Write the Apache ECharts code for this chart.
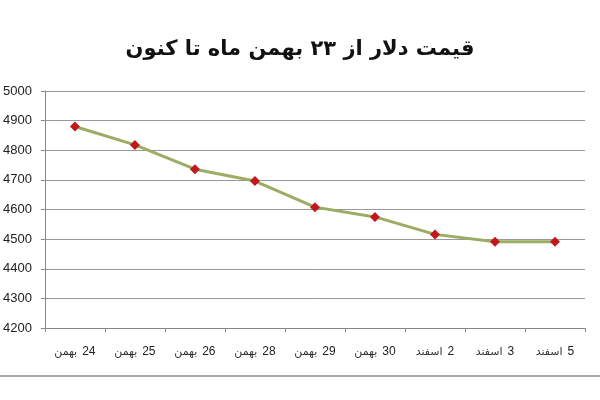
<!DOCTYPE html>
<html><head><meta charset="utf-8">
<script src="https://cdn.jsdelivr.net/npm/echarts@6/dist/echarts.min.js"></script>
<style>html,body{margin:0;padding:0;background:#fff}#c{width:600px;height:400px}</style>
</head><body><div id="c"></div>
<script>
const titleText = 'قیمت دلار از ۲۳ بهمن ماه تا کنون';
const days = ['24','25','26','28','29','30','2','3','5'];
const months = ['بهمن','بهمن','بهمن','بهمن','بهمن','بهمن','اسفند','اسفند','اسفند'];
const prices = [4880, 4818, 4736, 4696, 4608, 4575, 4516, 4491, 4491];
const yMin = 4200, yMax = 5000, yStep = 100;
const categories = days.map((d, i) => d + ' ' + months[i]);

const chart = echarts.init(document.getElementById('c'));
chart.setOption({
  animation: false,
  backgroundColor: '#fff',
  title: {
    text: titleText, left: 'center', top: 34,
    textStyle: { fontFamily: 'DejaVu Sans', fontSize: 21, fontWeight: 'bold', color: '#111' }
  },
  grid: { left: 43, right: 15, top: 91, bottom: 72 },
  xAxis: {
    type: 'category', data: categories, boundaryGap: true,
    axisLine: { lineStyle: { color: '#888', width: 1 } },
    axisTick: { show: true, length: 4, interval: 0, lineStyle: { color: '#888' } },
    axisLabel: {
      margin: 18, interval: 0, hideOverlap: false,
      formatter: (v, i) => '{w|' + months[i] + '}{n|' + days[i] + '}',
      rich: {
        w: { fontFamily: 'DejaVu Sans', fontSize: 11, color: '#333', padding: [0, 5, 0, 0] },
        n: { fontFamily: 'Liberation Sans', fontSize: 12, color: '#222' }
      }
    }
  },
  yAxis: {
    type: 'value', min: yMin, max: yMax, interval: yStep,
    axisLine: { show: true, lineStyle: { color: '#888', width: 1 } },
    axisTick: { show: true, length: 4, lineStyle: { color: '#888' } },
    axisLabel: { fontFamily: 'Liberation Sans', fontSize: 13, color: '#222', margin: 13,
      formatter: v => String(v) },
    splitLine: { lineStyle: { color: '#999', width: 1 } }
  },
  series: [{
    type: 'line', data: prices,
    symbol: 'diamond', symbolSize: 10,
    itemStyle: { color: '#c0181c' },
    lineStyle: { color: '#9bad62', width: 3 }
  }],
  graphic: [{
    type: 'rect', left: 0, top: 375, shape: { width: 600, height: 2 },
    style: { fill: '#a8a8a8' }
  }]
});
</script></body></html>
